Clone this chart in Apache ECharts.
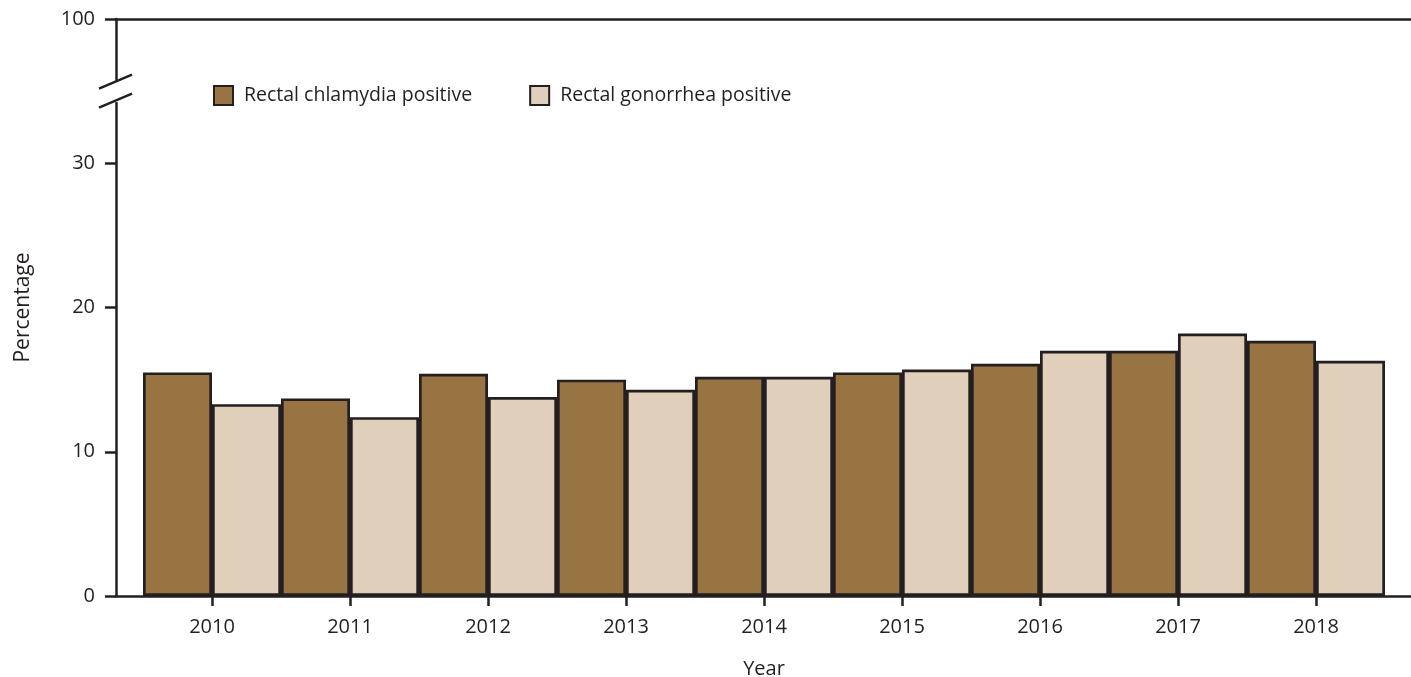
<!DOCTYPE html>
<html>
<head>
<meta charset="utf-8">
<script src="https://cdn.jsdelivr.net/npm/echarts@6/dist/echarts.min.js"></script>
<style>html,body{margin:0;padding:0;background:#fff}#c{width:1411px;height:677px}</style>
</head>
<body>
<div id="c"></div>
<script>
const years = ['2010','2011','2012','2013','2014','2015','2016','2017','2018'];
const chlamydia = [15.5, 13.7, 15.4, 15.0, 15.2, 15.5, 16.1, 17.0, 17.7];
const gonorrhea = [13.3, 12.4, 13.8, 14.3, 15.2, 15.7, 17.0, 18.2, 16.3];
const yTickValues = [0, 10, 20, 30, 40];
const yTickLabels = ['0', '10', '20', '30', '100'];
const seriesNames = ['Rectal chlamydia positive', 'Rectal gonorrhea positive'];
const breakAt = 35;

const FONT = 'Open Sans';
const INK = '#231f20';
const chart = echarts.init(document.getElementById('c'), null, {renderer: 'canvas'});

const option = {
  animation: false,
  backgroundColor: '#fff',
  textStyle: {fontFamily: FONT, color: INK},
  grid: [
    {left: 116, right: 0, top: 19, bottom: 81, outerBoundsMode: 'none', containLabel: false},
    {left: 143, right: 26, top: 19, bottom: 81, outerBoundsMode: 'none', containLabel: false}
  ],
  legend: {
    left: 208, top: 80, itemWidth: 19, itemHeight: 19, itemGap: 57, icon: 'rect',
    textStyle: {fontFamily: FONT, fontSize: 19.5, color: INK, padding: [0, 0, 0, 6]},
    data: seriesNames
  },
  xAxis: [
    {gridIndex: 0, type: 'value', min: 0, max: 1, position: 'bottom',
     axisLine: {show: true, lineStyle: {color: INK, width: 2.5}},
     axisTick: {show: false}, axisLabel: {show: false}, splitLine: {show: false}},
    {gridIndex: 1, type: 'category', data: years, position: 'bottom',
     axisLine: {show: false},
     axisTick: {show: true, alignWithLabel: true, length: 10, lineStyle: {color: INK, width: 2.5}},
     axisLabel: {fontFamily: FONT, fontSize: 20, color: INK, margin: 21},
     name: 'Year', nameLocation: 'middle', nameGap: 63,
     nameTextStyle: {fontFamily: FONT, fontSize: 20, color: INK}},
    {gridIndex: 0, type: 'value', min: 0, max: 1, position: 'top',
     axisLine: {show: true, lineStyle: {color: INK, width: 2.5}},
     axisTick: {show: false}, axisLabel: {show: false}, splitLine: {show: false}}
  ],
  yAxis: [
    {gridIndex: 0, type: 'value', min: 0, max: 40, interval: 10,
     axisLine: {show: true, lineStyle: {color: INK, width: 2.5}},
     axisTick: {show: true, length: 11, lineStyle: {color: INK, width: 2.5}},
     axisLabel: {fontFamily: FONT, fontSize: 20, color: INK, margin: 21,
       formatter: v => yTickLabels[yTickValues.indexOf(v)]},
     splitLine: {show: false},
     name: 'Percentage', nameLocation: 'middle', nameGap: 82,
     nameTextStyle: {fontFamily: FONT, fontSize: 21, color: INK}},
    {gridIndex: 1, type: 'value', min: 0, max: 40, interval: 10, show: false}
  ],
  series: [
    {name: seriesNames[0], type: 'bar', xAxisIndex: 1, yAxisIndex: 1, data: chlamydia,
     barGap: '0%', barCategoryGap: '0%',
     itemStyle: {color: '#997443', borderColor: INK, borderWidth: 2.7}},
    {name: seriesNames[1], type: 'bar', xAxisIndex: 1, yAxisIndex: 1, data: gonorrhea,
     barGap: '0%', barCategoryGap: '0%',
     itemStyle: {color: '#dfcfbb', borderColor: INK, borderWidth: 2.7}}
  ]
};
chart.setOption(option);

const p = chart.convertToPixel({gridIndex: 0}, [0, breakAt]);
const x0 = p[0], y0 = p[1];
chart.setOption({
  graphic: [
    {type: 'rect', shape: {x: x0 - 4, y: y0 - 10, width: 8, height: 21}, style: {fill: '#fff'}, z: 100},
    {type: 'line', shape: {x1: x0 - 17, y1: y0 - 2.5, x2: x0 + 16, y2: y0 - 16.5},
     style: {stroke: INK, lineWidth: 2.5}, z: 101},
    {type: 'line', shape: {x1: x0 - 17, y1: y0 + 16.5, x2: x0 + 16, y2: y0 + 2.5},
     style: {stroke: INK, lineWidth: 2.5}, z: 101}
  ]
});
</script>
</body>
</html>
